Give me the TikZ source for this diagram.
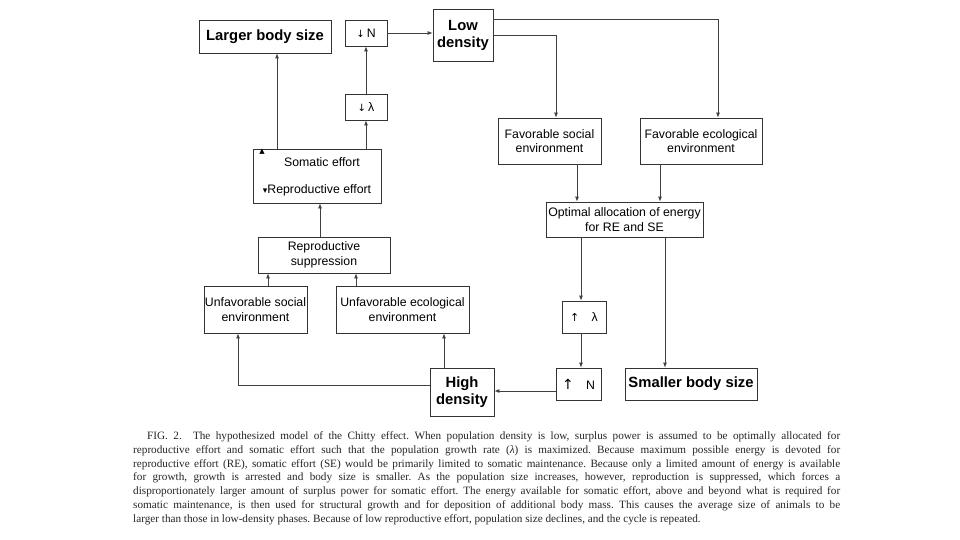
\documentclass[tikz,border=0pt]{standalone}
\usepackage{fontspec}
\setmainfont{Liberation Serif}
\newfontfamily\boxfont{Liberation Sans}
\newfontfamily\symfont{DejaVu Sans}
\usetikzlibrary{arrows.meta}
\begin{document}
\begin{tikzpicture}[x=1pt,y=-1pt,
  box/.style={draw=black!80, line width=0.8pt, inner sep=1pt, align=center,
    font=\boxfont\fontsize{12.3}{14.5}\selectfont},
  bigbox/.style={box, font=\boxfont\bfseries\fontsize{14.8}{17}\selectfont},
  arr/.style={draw=black!75, line width=0.8pt, -{Latex[length=5pt,width=4pt]}},
  ln/.style={draw=black!75, line width=0.8pt}]
\useasboundingbox[fill=white] (0,0) rectangle (960,540);

% nodes
\node[bigbox, minimum width=132pt, minimum height=33pt] (larger) at (265,36.5) {Larger body size};
\node[box, minimum width=42pt, minimum height=26pt] (dN) at (366,33) {{\symfont\fontsize{10}{10}\selectfont ↓}\,N};
\node[bigbox, minimum width=60pt, minimum height=52pt] (low) at (463,35) {Low\\density};
\node[box, minimum width=42pt, minimum height=26pt] (dl) at (366,107) {{\symfont\fontsize{10}{10}\selectfont ↓}\,λ};
\node[box, minimum width=128pt, minimum height=54pt] (som) at (317,176) {};
\node[font=\boxfont\fontsize{12.3}{14.5}\selectfont] (somtxt) at (322,162) {Somatic effort};
\node[font=\boxfont\fontsize{12.3}{14.5}\selectfont] (retxt) at (317,190) {{\symfont\fontsize{9}{9}\selectfont ▾}Reproductive effort};
\node[font=\symfont\fontsize{7}{7}\selectfont, inner sep=0pt] (tri) at (262,152) {▲};
\node[box, minimum width=103pt, minimum height=46pt] (favsoc) at (549.5,141) {Favorable social\\environment};
\node[box, minimum width=122pt, minimum height=46pt] (faveco) at (701,141) {Favorable ecological\\environment};
\node[box, minimum width=157pt, minimum height=35pt] (opt) at (624.5,219.5) {Optimal allocation of energy\\for RE and SE};
\node[box, minimum width=132pt, minimum height=36pt] (rs) at (324,255) {Reproductive\\suppression};
\node[box, minimum width=103pt, minimum height=47pt] (unsoc) at (255.5,309.5) {Unfavorable social\\environment};
\node[box, minimum width=133pt, minimum height=47pt] (uneco) at (402.5,309.5) {Unfavorable ecological\\environment};
\node[box, minimum width=44pt, minimum height=32pt] (ul) at (584,317) {{\symfont\fontsize{11}{11}\selectfont ↑}\quad λ};
\node[box, minimum width=45pt, minimum height=32pt] (uN) at (578.5,384) {{\symfont\fontsize{14}{14}\selectfont ↑}\quad N};
\node[bigbox, minimum width=132pt, minimum height=32pt] (small) at (691,384) {Smaller body size};
\node[bigbox, minimum width=64pt, minimum height=48pt] (high) at (462,392) {High\\density};

% helper coordinates
\coordinate (x277) at (277,0);
\coordinate (x366) at (366,0);
\coordinate (y33) at (0,33);
\coordinate (y195) at (0,19.5);
\coordinate (y35) at (0,35);
\coordinate (x718) at (718,0);
\coordinate (x556) at (556,0);
\coordinate (x577) at (577,0);
\coordinate (x660) at (660,0);
\coordinate (x581) at (581,0);
\coordinate (x665) at (665,0);
\coordinate (y391) at (0,391);
\coordinate (y385) at (0,385);
\coordinate (x238) at (238,0);
\coordinate (x444) at (444,0);
\coordinate (x268) at (268,0);
\coordinate (x356) at (356,0);
\coordinate (x320) at (320,0);

% connectors
\draw[arr] (som.north -| x277) -- (larger.south -| x277);
\draw[arr] (som.north -| x366) -- (dl.south -| x366);
\draw[arr] (dl.north -| x366) -- (dN.south -| x366);
\draw[arr] (dN.east |- y33) -- (low.west |- y33);
\draw[arr] (low.east |- y195) -| (faveco.north -| x718);
\draw[arr] (low.east |- y35) -| (favsoc.north -| x556);
\draw[arr] (favsoc.south -| x577) -- (opt.north -| x577);
\draw[arr] (faveco.south -| x660) -- (opt.north -| x660);
\draw[arr] (opt.south -| x581) -- (ul.north -| x581);
\draw[arr] (ul.south -| x581) -- (uN.north -| x581);
\draw[arr] (opt.south -| x665) -- (small.north -| x665);
\draw[arr] (uN.west |- y391) -- (high.east |- y391);
\draw[arr] (high.west |- y385) -| (unsoc.south -| x238);
\draw[arr] (high.north -| x444) -- (uneco.south -| x444);
\draw[arr] (unsoc.north -| x268) -- (rs.south -| x268);
\draw[arr] (uneco.north -| x356) -- (rs.south -| x356);
\draw[arr] (rs.north -| x320) -- (som.south -| x320);

% caption
\node[anchor=north west, inner sep=0pt, text width=707pt, align=justify,
  font=\frenchspacing\fontsize{11.2}{13.8}\selectfont, text=black!85] (cap) at (133,431.5)
{\hspace*{14pt}FIG. 2.\quad The hypothesized model of the Chitty effect. When population density is low, surplus power is assumed to be optimally allocated for\linebreak
reproductive effort and somatic effort such that the population growth rate (\textit{λ}) is maximized. Because maximum possible energy is devoted for\linebreak
reproductive effort (RE), somatic effort (SE) would be primarily limited to somatic maintenance. Because only a limited amount of energy is available\linebreak
for growth, growth is arrested and body size is smaller. As the population size increases, however, reproduction is suppressed, which forces a\linebreak
disproportionately larger amount of surplus power for somatic effort. The energy available for somatic effort, above and beyond what is required for\linebreak
somatic maintenance, is then used for structural growth and for deposition of additional body mass. This causes the average size of animals to be\linebreak
larger than those in low-density phases. Because of low reproductive effort, population size declines, and the cycle is repeated.};
\end{tikzpicture}
\end{document}
